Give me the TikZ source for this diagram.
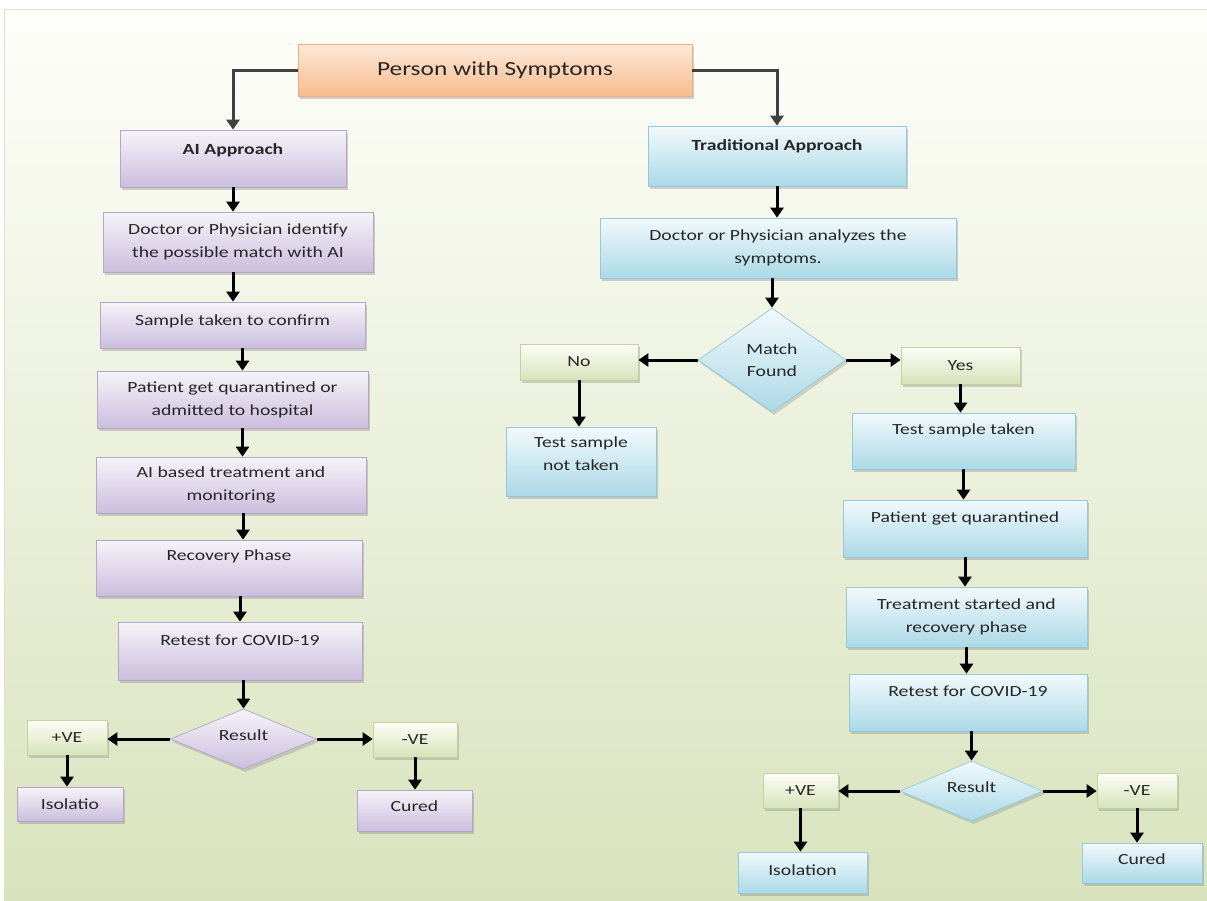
\documentclass[tikz,border=0pt]{standalone}
\usepackage{fontspec}
\setmainfont{Carlito}[FakeStretch=1.27]
\usetikzlibrary{shapes.geometric,shadows,arrows.meta,calc}
\definecolor{bgT}{HTML}{FEFEFA}
\definecolor{bgM}{HTML}{F1F4E6}
\definecolor{bgB}{HTML}{D8E3BD}
\definecolor{bgL}{HTML}{DDE2C8}
\definecolor{orT}{HTML}{FDE9DA}
\definecolor{orB}{HTML}{F8BC8C}
\definecolor{orL}{HTML}{EDAE80}
\definecolor{puT}{HTML}{F6F3F9}
\definecolor{puB}{HTML}{CBBEDD}
\definecolor{puL}{HTML}{B4A5C9}
\definecolor{blT}{HTML}{F2F9FC}
\definecolor{blB}{HTML}{ABD9E7}
\definecolor{blL}{HTML}{93C9DA}
\definecolor{grT}{HTML}{FDFDF6}
\definecolor{grB}{HTML}{D6E3BA}
\definecolor{grL}{HTML}{C2D39E}
\definecolor{txt}{HTML}{262626}
\newcommand\liftup[2]{\raisebox{#1}[\height][\depth]{#2}}
\tikzset{
  bx/.style={rectangle, inner sep=2pt, align=center, text=txt,
    font=\fontsize{15.5}{23}\selectfont, line width=0.7pt,
    drop shadow={shadow xshift=2pt, shadow yshift=-3pt, opacity=0.35}},
  dia/.style={diamond, inner sep=0pt, align=center, text=txt,
    font=\fontsize{15.5}{22}\selectfont, line width=0.7pt,
    drop shadow={shadow xshift=2pt, shadow yshift=-3pt, opacity=0.3}},
  org/.style={draw=orL, top color=orT, bottom color=orB},
  pur/.style={draw=puL, top color=puT, bottom color=puB},
  blu/.style={draw=blL, top color=blT, bottom color=blB},
  grn/.style={draw=grL, top color=grT, bottom color=grB},
  sz/.style 2 args={minimum width=#1pt, minimum height=#2pt},
  arr/.style={draw=black, line width=3pt, -{Triangle[length=10pt,width=13pt]}},
  arrg/.style={draw=black!75, line width=3pt, -{Triangle[length=10pt,width=13pt]}},
}
\begin{document}
\begin{tikzpicture}[x=1pt,y=-1pt]
\useasboundingbox (0,0) rectangle (1207,900);
\fill[white] (0,0) rectangle (1207,900);
\shade[top color=bgT, middle color=bgM, bottom color=bgB] (4,9) rectangle (1207,900);
\draw[bgL, line width=1pt] (1207,9) -- (4,9) -- (4,900);

% title
\node[bx, org, sz={394}{52}, font=\fontsize{20}{24}\selectfont] (title) at (495,70) {Person with Symptoms};

% AI column
\node[bx, pur, sz={226}{57}, font=\fontsize{15.5}{23}\bfseries] (ai) at (233,158.5) {\liftup{8pt}{AI Approach}};
\node[bx, pur, sz={270}{60}] (doc1) at (238,242) {Doctor or Physician identify\\the possible match with AI};
\node[bx, pur, sz={265}{46}] (samp) at (232.5,325) {\liftup{4pt}{Sample taken to confirm}};
\node[bx, pur, sz={271}{57}] (pat) at (232.5,399.5) {Patient get quarantined or\\admitted to hospital};
\node[bx, pur, sz={270}{56}] (aib) at (231,485) {AI based treatment and\\monitoring};
\node[bx, pur, sz={266}{56}] (rec) at (229,568) {\liftup{12pt}{Recovery Phase}};
\node[bx, pur, sz={244}{58}] (ret) at (240,651) {\liftup{11pt}{Retest for COVID-19}};
\node[dia, pur, sz={146}{54}] (res) at (243.5,739) {\liftup{4pt}{Result}};
\node[bx, grn, sz={80}{35}] (pos) at (67,737.5) {+VE};
\node[bx, grn, sz={84}{35}] (neg) at (415,739.5) {-VE};
\node[bx, pur, sz={106}{34}] (iso) at (70,804) {Isolatio};
\node[bx, pur, sz={115}{41}] (cur) at (414.5,810.5) {\liftup{4pt}{Cured}};

% Traditional column
\node[bx, blu, sz={258}{60}, font=\fontsize{15.5}{23}\bfseries] (trad) at (777,156) {\liftup{10pt}{Traditional Approach}};
\node[bx, blu, sz={356}{60}] (doc2) at (778,248) {Doctor or Physician analyzes the\\symptoms.};
\node[dia, blu, sz={148}{104}] (match) at (772,360) {Match\\Found};
\node[bx, grn, sz={118}{36}] (no) at (579,362) {No};
\node[bx, grn, sz={119}{37}] (yes) at (960.5,365.5) {Yes};
\node[bx, blu, sz={150}{69}] (tnt) at (581,461.5) {Test sample\\not taken\\[-8pt]};
\node[bx, blu, sz={223}{56}] (tst) at (963.5,441) {\liftup{11pt}{Test sample taken}};
\node[bx, blu, sz={244}{57}] (pq) at (965,528.5) {\liftup{10pt}{Patient get quarantined}};
\node[bx, blu, sz={241}{60}] (trt) at (966.5,617) {Treatment started and\\recovery phase};
\node[bx, blu, sz={238}{57}] (ret2) at (968,702.5) {\liftup{11pt}{Retest for COVID-19}};
\node[dia, blu, sz={143}{58}] (res2) at (971.5,791) {\liftup{4pt}{Result}};
\node[bx, grn, sz={75}{35}] (pos2) at (800.5,790.5) {+VE};
\node[bx, grn, sz={80}{35}] (neg2) at (1137,790.5) {-VE};
\node[bx, blu, sz={129}{41}] (iso2) at (802.5,872.5) {\liftup{2pt}{Isolation}};
\node[bx, blu, sz={120}{40}] (cur2) at (1142,863) {\liftup{4pt}{Cured}};

% connectors
\draw[arrg] (title.west) -| (ai.north);
\draw[arrg] (title.east) -| (trad.north);

\draw[arr] (ai.south) -- (ai.south |- doc1.north);
\draw[arr] ([xshift=-5pt]doc1.south) -- ([xshift=-5pt]doc1.south |- samp.north);
\draw[arr] ([xshift=10pt]samp.south) -- ([xshift=10pt]samp.south |- pat.north);
\draw[arr] ([xshift=10pt]pat.south) -- ([xshift=10pt]pat.south |- aib.north);
\draw[arr] ([xshift=12pt]aib.south) -- ([xshift=12pt]aib.south |- rec.north);
\draw[arr] ([xshift=11pt]rec.south) -- ([xshift=11pt]rec.south |- ret.north);
\draw[arr] (res.north |- ret.south) -- (res.north);
\draw[arr] (res.west) -- (res.west -| pos.east);
\draw[arr] (res.east) -- (res.east -| neg.west);
\draw[arr] (pos.south) -- (pos.south |- iso.north);
\draw[arr] (neg.south) -- (neg.south |- cur.north);

\draw[arr] (trad.south) -- (trad.south |- doc2.north);
\draw[arr] (match.north |- doc2.south) -- (match.north);
\draw[arr] (match.west) -- (match.west -| no.east);
\draw[arr] (match.east) -- (match.east -| yes.west);
\draw[arr] (no.south) -- (no.south |- tnt.north);
\draw[arr] (yes.south) -- (yes.south |- tst.north);
\draw[arr] (tst.south) -- (tst.south |- pq.north);
\draw[arr] (pq.south) -- (pq.south |- trt.north);
\draw[arr] (trt.south) -- (trt.south |- ret2.north);
\draw[arr] (res2.north |- ret2.south) -- (res2.north);
\draw[arr] (res2.west) -- (res2.west -| pos2.east);
\draw[arr] (res2.east) -- (res2.east -| neg2.west);
\draw[arr] (pos2.south) -- (pos2.south |- iso2.north);
\draw[arr] (neg2.south) -- (neg2.south |- cur2.north);
\end{tikzpicture}
\end{document}
